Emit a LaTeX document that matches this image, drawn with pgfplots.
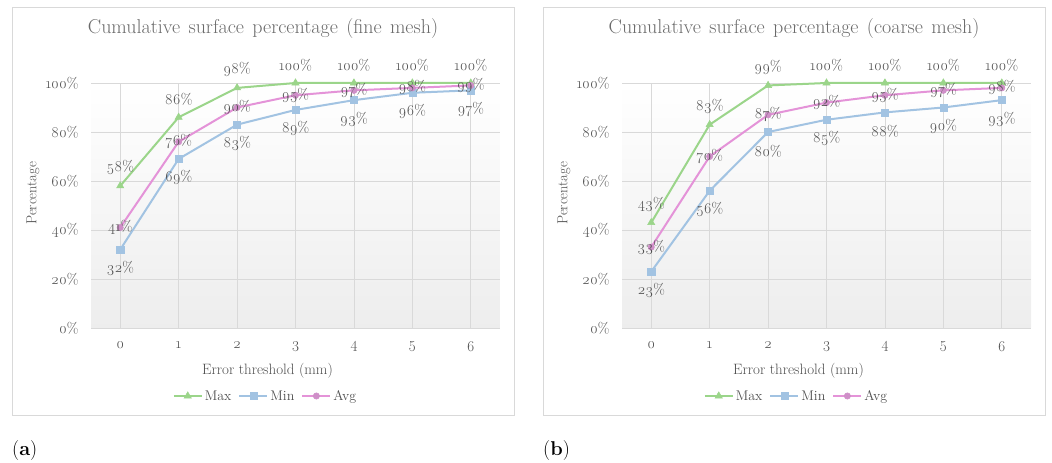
\documentclass[border=0pt]{standalone}
\usepackage{fontspec}
\setmainfont{Latin Modern Roman}[Numbers=OldStyle]
\usepackage{pgfplots}
\usepackage{pgfplotstable}
\pgfplotsset{compat=1.18}

\definecolor{maxc}{HTML}{9BD58A}
\definecolor{minc}{HTML}{A2C3E2}
\definecolor{avgc}{HTML}{E493D8}
\definecolor{avgm}{HTML}{CF8FC8}
\definecolor{txt}{HTML}{4F4F4F}
\definecolor{titlec}{HTML}{6A6A6A}
\definecolor{gridc}{HTML}{D9D9D9}
\definecolor{framec}{HTML}{D9D9D9}

% cumulative share of the surface within each error threshold (percent)
\pgfplotstableread{
thr max min avg
0   58  32  41
1   86  69  76
2   98  83  90
3   100 89  95
4   100 93  97
5   100 96  98
6   100 97  99
}\finemesh
\pgfplotstableread{
thr max min avg
0   43  23  33
1   83  56  70
2   99  80  87
3   100 85  92
4   100 88  95
5   100 90  97
6   100 93  98
}\coarsemesh

\newcommand{\charttitle}[1]{\fontsize{20}{22}\selectfont\spaceskip=0.42em plus 0.1em\relax #1}

\pgfplotsset{
  surfstyle/.style={
    scale only axis, width=409pt, height=245pt,
    xmin=-0.5, xmax=6.5, ymin=0, ymax=100,
    xtick={0,...,6}, ytick={0,20,...,100},
    yticklabel={\pgfmathprintnumber[assume math mode=true]{\tick}\%},
    xticklabel={\pgfmathprintnumber[assume math mode=true]{\tick}},
    grid=major, major grid style={gridc, line width=0.8pt},
    axis line style={draw=none},
    major tick length=0pt,
    tick label style={txt, font=\fontsize{15}{17}\selectfont},
    xticklabel style={yshift=-10pt},
    yticklabel style={xshift=-9pt},
    axis background/.style={top color=white, bottom color=black!7},
    xlabel={Error threshold (mm)}, ylabel={Percentage},
    xlabel style={txt, font=\fontsize{15}{17}\selectfont,
      at={(axis description cs:0.5,0)}, anchor=center, yshift=-43pt, xshift=-28pt},
    ylabel style={txt, font=\fontsize{14.5}{16}\selectfont,
      at={(axis description cs:0,0.55)}, anchor=center, yshift=58pt},
    legend style={draw=none, fill=none, legend columns=3,
      at={(axis description cs:0.5,0)}, anchor=center, yshift=-68pt, xshift=-30pt,
      font=\fontsize{14}{16}\selectfont, text=txt,
      /tikz/every even column/.append style={column sep=5pt}},
    legend image code/.code={%
      \draw[mark repeat=2,mark phase=2,#1]
        plot coordinates {(0pt,0pt) (14pt,0pt) (28pt,0pt)};},
    clip=false,
    every axis plot/.append style={line width=2pt},
    nodes near coords={\pgfmathprintnumber[assume math mode=true]{\pgfplotspointmeta}\%},
    every node near coord/.append style={txt, font=\fontsize{15}{17}\selectfont, anchor=center},
  },
  maxline/.style={color=maxc, mark=triangle*, mark size=4.2pt,
    mark options={solid, fill=maxc, draw=maxc, line width=0.5pt},
    every node near coord/.append style={yshift=18pt}},
  minline/.style={color=minc, mark=square*, mark size=3.6pt,
    mark options={solid, fill=minc, draw=minc, line width=0.5pt},
    every node near coord/.append style={yshift=-19pt}},
  avgline/.style={color=avgc, mark=*, mark size=3.2pt,
    mark options={solid, fill=avgm, draw=avgm, line width=0.5pt}},
}

\begin{document}
\begin{tikzpicture}
  % page extent and panel frames
  \path (0pt,0pt) rectangle (1052pt,463pt);
  \draw[framec, line width=1pt] (12pt,47pt) rectangle (514pt,455pt);
  \draw[framec, line width=1pt] (543pt,47pt) rectangle (1045pt,455pt);

  \begin{axis}[surfstyle, at={(91pt,135pt)}, anchor=south west]
    \addplot[maxline] table[x=thr, y=max] {\finemesh};
    \addlegendentry{Max}
    \addplot[minline] table[x=thr, y=min] {\finemesh};
    \addlegendentry{Min}
    \addplot[avgline] table[x=thr, y=avg] {\finemesh};
    \addlegendentry{Avg}
  \end{axis}

  \begin{axis}[surfstyle, at={(622pt,135pt)}, anchor=south west]
    \addplot[maxline] table[x=thr, y=max] {\coarsemesh};
    \addlegendentry{Max}
    \addplot[minline] table[x=thr, y=min] {\coarsemesh};
    \addlegendentry{Min}
    \addplot[avgline] table[x=thr, y=avg] {\coarsemesh};
    \addlegendentry{Avg}
  \end{axis}

  % chart titles
  \node[titlec] at (263pt,434pt)
    {\charttitle{Cumulative surface percentage (fine mesh)}};
  \node[titlec] at (794pt,434pt)
    {\charttitle{Cumulative surface percentage (coarse mesh)}};

  % panel tags
  \node[anchor=west, font=\fontsize{20}{22}\selectfont, inner sep=0pt] at (12pt,12pt) {(\textbf{a})};
  \node[anchor=west, font=\fontsize{20}{22}\selectfont, inner sep=0pt] at (543pt,12pt) {(\textbf{b})};
\end{tikzpicture}
\end{document}
